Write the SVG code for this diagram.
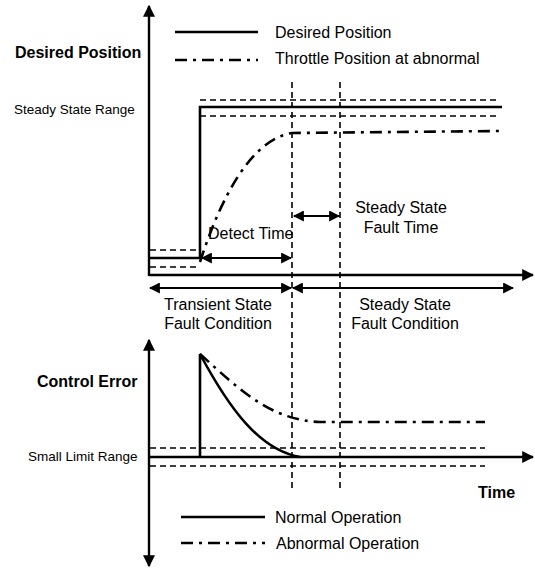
<svg xmlns="http://www.w3.org/2000/svg" width="535" height="569" viewBox="0 0 535 569">
  <style>
    .txt { font-family: "Liberation Sans", Arial, sans-serif; fill: #000; }
    .lab { font-size: 16px; }
    .bold { font-size: 16px; font-weight: bold; }
    .small { font-size: 13.5px; }
    .solid { fill: none; stroke: #000; stroke-width: 2.6; }
    .axis { fill: none; stroke: #000; stroke-width: 2.4; }
    .dash { fill: none; stroke: #000; stroke-width: 1.6; stroke-dasharray: 6 4; }
    .dashdot { fill: none; stroke: #000; stroke-width: 2.6; stroke-dasharray: 12 6 3 6; }
    .arr { fill: none; stroke: #000; stroke-width: 2.2; }
  </style>
  <defs>
    <marker id="ah" viewBox="0 0 10 10" refX="9" refY="5" markerWidth="5" markerHeight="5" orient="auto-start-reverse" markerUnits="strokeWidth">
      <path d="M0,0 L10,5 L0,10 Z" fill="#000"/>
    </marker>
  </defs>

  <!-- axes -->
  <g id="axes">
    <line class="axis" x1="149" y1="276" x2="149" y2="6" marker-end="url(#ah)"/>
    <line class="axis" x1="149" y1="275" x2="533" y2="275" marker-end="url(#ah)"/>
    <line class="axis" x1="149" y1="340" x2="149" y2="566" marker-start="url(#ah)" marker-end="url(#ah)"/>
    <line class="axis" x1="149" y1="457" x2="533" y2="457" marker-end="url(#ah)"/>
  </g>

  <!-- range bands and time markers -->
  <g id="guides">
    <line class="dash" x1="200" y1="100" x2="500" y2="100"/>
    <line class="dash" x1="200" y1="116" x2="500" y2="116"/>
    <line class="dash" x1="150" y1="250" x2="200" y2="250"/>
    <line class="dash" x1="150" y1="267" x2="200" y2="267"/>
    <line class="dash" x1="150" y1="448" x2="485" y2="448"/>
    <line class="dash" x1="150" y1="466" x2="485" y2="466"/>
    <line class="dash" x1="292" y1="82" x2="292" y2="490"/>
    <line class="dash" x1="340" y1="82" x2="340" y2="490"/>
  </g>

  <!-- signal traces -->
  <g id="traces">
    <path class="solid" d="M150,258 L200,258 L200,107 L502,107"/>
    <path class="dashdot" d="M200,262 C220,200 250,140 292,133 L500,131"/>
    <path class="solid" d="M200,457 L200,354 C230,410 260,450 300,457"/>
    <path class="dashdot" d="M200,354 C240,390 270,420 320,422 L485,422"/>
  </g>

  <!-- interval arrows -->
  <g id="connectors">
    <line class="arr" x1="202" y1="258" x2="291" y2="258" marker-start="url(#ah)" marker-end="url(#ah)"/>
    <line class="arr" x1="294" y1="216" x2="339" y2="216" marker-start="url(#ah)" marker-end="url(#ah)"/>
    <line class="arr" x1="150" y1="288" x2="291" y2="288" marker-start="url(#ah)" marker-end="url(#ah)"/>
    <line class="arr" x1="293" y1="288" x2="513" y2="288" marker-start="url(#ah)" marker-end="url(#ah)"/>
  </g>

  <!-- legends -->
  <g id="legend-top">
    <line class="solid" x1="175" y1="32" x2="258" y2="32"/>
    <line class="dashdot" x1="175" y1="60" x2="258" y2="60"/>
    <text class="txt lab" x="275" y="38">Desired Position</text>
    <text class="txt lab" x="275" y="64">Throttle Position at abnormal</text>
  </g>
  <g id="legend-bottom">
    <line class="solid" x1="181" y1="517" x2="265" y2="517"/>
    <line class="dashdot" x1="181" y1="543" x2="265" y2="543"/>
    <text class="txt lab" x="275" y="523">Normal Operation</text>
    <text class="txt lab" x="276" y="549">Abnormal Operation</text>
  </g>

  <!-- labels -->
  <g id="labels">
    <text class="txt bold" x="15" y="58">Desired Position</text>
    <text class="txt small" x="14" y="114">Steady State Range</text>
    <text class="txt lab" x="208" y="239">Detect Time</text>
    <text class="txt lab" x="401" y="213" text-anchor="middle">Steady State</text>
    <text class="txt lab" x="401" y="233" text-anchor="middle">Fault Time</text>
    <text class="txt lab" x="218" y="310" text-anchor="middle">Transient State</text>
    <text class="txt lab" x="218" y="329" text-anchor="middle">Fault Condition</text>
    <text class="txt lab" x="405" y="310" text-anchor="middle">Steady State</text>
    <text class="txt lab" x="405" y="329" text-anchor="middle">Fault Condition</text>
    <text class="txt bold" x="37" y="387">Control Error</text>
    <text class="txt small" x="28" y="461">Small Limit Range</text>
    <text class="txt bold" x="478" y="498">Time</text>
  </g>
</svg>
